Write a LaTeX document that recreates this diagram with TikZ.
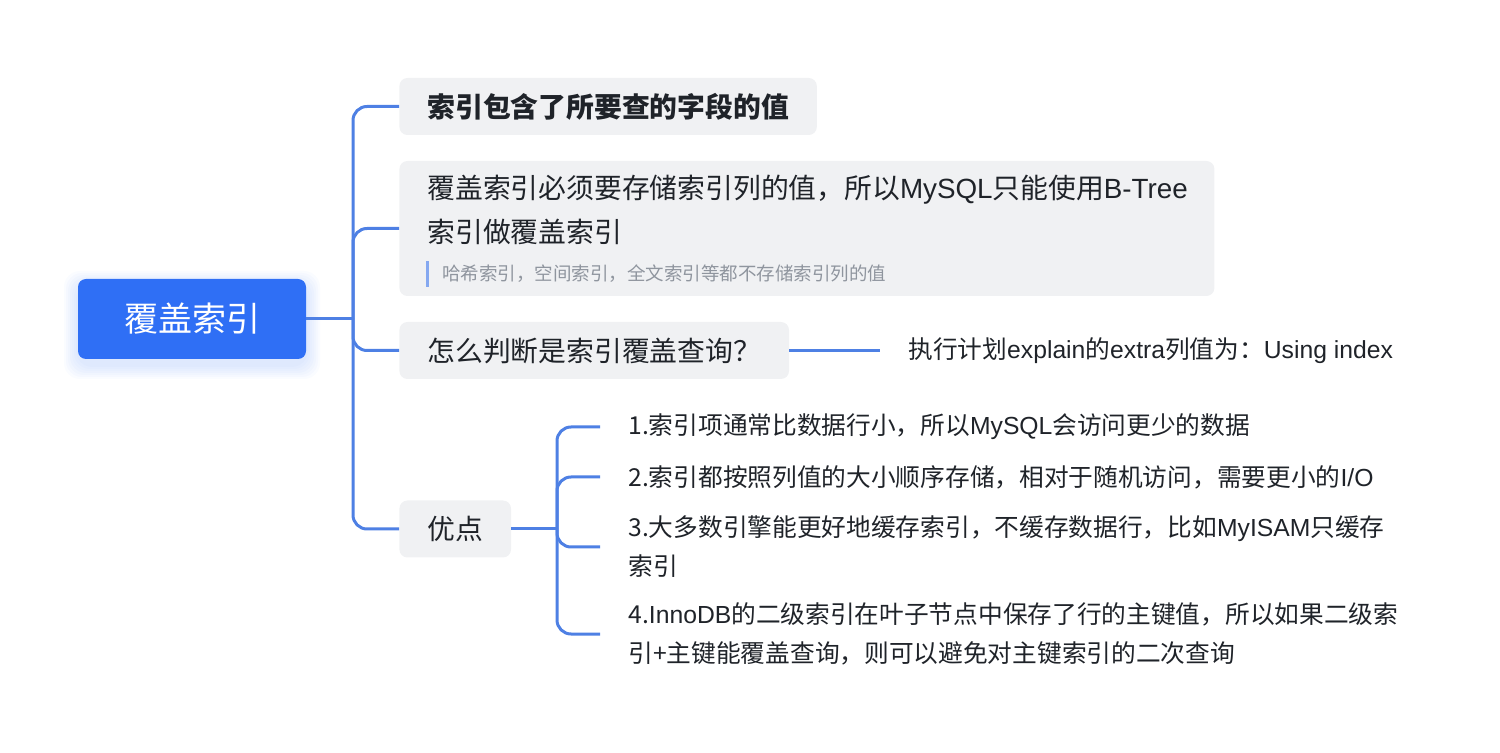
\documentclass[tikz,border=0pt]{standalone}
\usepackage{fontspec}
\setmainfont{Noto Sans CJK SC}
\newfontfamily\latin{Liberation Sans}
\newcommand\en[1]{{\latin #1}}
\newcommand\tpfont{\fontsize{13.9}{22}\selectfont}
\newcommand\lffont{\fontsize{12.35}{19.5}\selectfont}
\newcommand\ntfont{\fontsize{9.25}{12}\selectfont}
\usetikzlibrary{positioning}
\definecolor{rootblue}{HTML}{2F6FF5}
\definecolor{linkblue}{HTML}{4E80E4}
\definecolor{topicgrey}{HTML}{F0F1F3}
\definecolor{textdark}{HTML}{1F2329}
\definecolor{notegrey}{HTML}{8F959E}
\definecolor{notebar}{HTML}{85A8F0}
\tikzset{
  root/.style={fill=rootblue,text=white,rounded corners=4pt,minimum width=114pt,minimum height=40pt,font=\fontsize{17}{20}\selectfont},
  topic/.style={fill=topicgrey,text=textdark,rounded corners=4pt,inner xsep=14pt,minimum height=28.5pt,anchor=west,font=\tpfont},
  leaf/.style={text=textdark,inner xsep=14pt,anchor=west,align=left,font=\lffont},
  link/.style={draw=linkblue,line width=1.5pt,rounded corners=7pt},
}
\begin{document}
\begin{tikzpicture}[x=0.5pt,y=-0.5pt]
\useasboundingbox (0,0) rectangle (1500,753);
% soft shadow under the root
\foreach \g in {2,4,...,14}
  \fill[rootblue,opacity=.025,rounded corners=8pt] (78-\g,285-\g) rectangle (306+\g,365+\g);
\node[root] (cover) at (192,319) {覆盖索引};
\coordinate (hub) at (353,319);

% first level
\node[topic] (contain) at (399,106.5) {\bfseries 索引包含了所要查的字段的值};
\node[topic,minimum width=407.5pt,minimum height=67.5pt] (btree) at (399,228.5) {};
\node[leaf,font=\tpfont] (btreetext) at (399,210) {覆盖索引必须要存储索引列的值，所以\en{MySQL}只能使用\en{B-Tree}\\索引做覆盖索引};
\node[anchor=west,font=\ntfont,text=notegrey,inner xsep=7.5pt,inner ysep=1.7pt] (hashnote) at (427,274) {哈希索引，空间索引，全文索引等都不存储索引列的值};
\draw[notebar,line width=1.5pt] (hashnote.north west)--(hashnote.south west);
\node[topic] (judge) at (399,350.5) {怎么判断是索引覆盖查询？};
\node[topic] (merit) at (399,529) {优点};

\draw[link] (cover.east)--(hub);
\draw[link] (hub)|-(contain.west);
\draw[link] (hub)|-(btree.west);
\draw[link] (hub)|-(judge.west);
\draw[link] (hub)|-(merit.west);

% second level
\node[leaf] (explain) at (880,350.5) {执行计划\en{explain}的\en{extra}列值为：\en{Using index}};
\draw[link] (judge.east)--(explain.west);

\coordinate (meritHub) at (557,529);
\node[leaf] (smaller) at (600,427) {1.索引项通常比数据行小，所以\en{MySQL}会访问更少的数据};
\node[leaf] (ordered) at (600,477) {2.索引都按照列值的大小顺序存储，相对于随机访问，需要更小的\en{I/O}};
\node[leaf] (cached) at (600,547) {3.大多数引擎能更好地缓存索引，不缓存数据行，比如\en{MyISAM}只缓存\\索引};
\node[leaf] (innodb) at (600,634) {4.\en{InnoDB}的二级索引在叶子节点中保存了行的主键值，所以如果二级索\\引+主键能覆盖查询，则可以避免对主键索引的二次查询};

\draw[link] (merit.east)--(meritHub);
\foreach \n in {smaller,ordered,cached,innodb}
  \draw[link] (meritHub)|-(\n.west);
\end{tikzpicture}
\end{document}
